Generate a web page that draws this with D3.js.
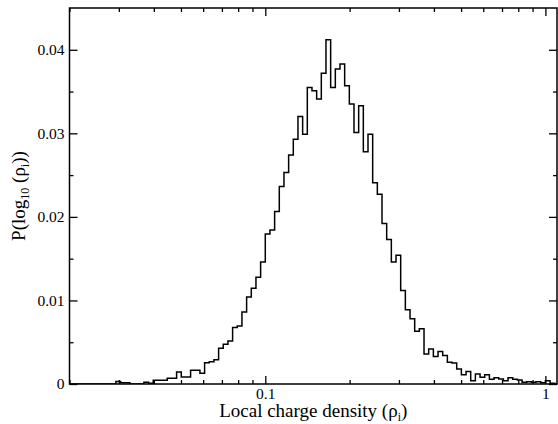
<!DOCTYPE html>
<html>
<head>
<meta charset="utf-8">
<script src="https://cdn.jsdelivr.net/npm/d3@7"></script>
<style>
body{margin:0;background:#fff}
svg text{font-family:"Liberation Serif","DejaVu Serif",serif;fill:#000}
</style>
</head>
<body>
<svg id="chart"></svg>
<script>
const width = 558, height = 424
const margin = {top:8, right:1, bottom:40, left:69.5}

// histogram: bins of 1/60 decade, first listed bin starts at 10^(binStart/60)
const binsPerDecade = 60
const binStart = -93
const density = [
  0, 0.0003, 0.00015, 0.00015, 0, 0, 0, 0.0002, 0.0001, 0.00045,
  0.00045, 0.00045, 0.0007, 0.0007, 0.00145, 0.00085, 0.00085, 0.00165, 0.00165, 0.00128,
  0.00255, 0.00265, 0.0029, 0.00427, 0.00475, 0.00515, 0.00675, 0.00695, 0.00862, 0.0104,
  0.01146, 0.01278, 0.01461, 0.01796, 0.01844, 0.02064, 0.02363, 0.0253, 0.0274, 0.0293,
  0.032, 0.0299, 0.0355, 0.0351, 0.0341, 0.0372, 0.0412, 0.0355, 0.0377, 0.0383,
  0.0357, 0.0335, 0.0301, 0.0333, 0.0278, 0.0299, 0.0241, 0.0227, 0.0192, 0.0173,
  0.0146, 0.0154, 0.0112, 0.0089, 0.0078, 0.0063, 0.0066, 0.0036, 0.0042, 0.0033,
  0.0039, 0.0034, 0.0026, 0.0025, 0.0018, 0.0011, 0.0015, 0.0004, 0.0012, 0.0008,
  0.0011, 0.00056, 0.00075, 0.0006, 0.0004, 0.00075, 0.00056, 0.00048, 0.0002, 0.00028,
  0.0002, 0.00028, 0.00015, 0.0004, 0.0001
]

const xDomain = [0.02, 1.1]
const yDomain = [0, 0.045]
const xMajor = [0.1, 1]
const xMajorLabels = ['0.1', '1']
const xMinor = [0.02,0.03,0.04,0.05,0.06,0.07,0.08,0.09,0.2,0.3,0.4,0.5,0.6,0.7,0.8,0.9]
const yMajor = [0, 0.01, 0.02, 0.03, 0.04]
const yMajorLabels = ['0', '0.01', '0.02', '0.03', '0.04']
const yMinor = [0.005, 0.015, 0.025, 0.035]

const svg = d3.select('#chart')
  .attr('width', width)
  .attr('height', height)

const x = d3.scaleLog().domain(xDomain).range([margin.left, width-margin.right])
const y = d3.scaleLinear().domain(yDomain).range([height-margin.bottom, margin.top])

const plotL = margin.left, plotR = width-margin.right
const plotT = margin.top, plotB = height-margin.bottom

svg.append('clipPath').attr('id','clip')
  .append('rect')
  .attr('x', plotL).attr('y', plotT)
  .attr('width', plotR-plotL)
  .attr('height', plotB-plotT)

// step points: left edge of every bin, closed at zero on both ends
const pts = [[xDomain[0], 0]]
density.forEach((d,i)=>{ pts.push([Math.pow(10,(binStart+i)/binsPerDecade), d]) })
pts.push([Math.pow(10,(binStart+density.length)/binsPerDecade), 0])
pts.push([xDomain[1], 0])

const line = d3.line()
  .x(d=>x(d[0]))
  .y(d=>y(d[1]))
  .curve(d3.curveStepAfter)

svg.append('path')
  .datum(pts)
  .attr('clip-path','url(#clip)')
  .attr('d', line)
  .attr('fill','none')
  .attr('stroke','#000')
  .attr('stroke-width',1.5)

// axes, ticks pointing in on all four sides
const fmtX = d=>xMajorLabels[xMajor.indexOf(d)]
const fmtY = d=>yMajorLabels[yMajor.indexOf(d)]

const addAxis = (axis, tx, ty) => {
  const g = svg.append('g').attr('transform',`translate(${tx},${ty})`).call(axis)
  g.select('.domain').remove()
  g.selectAll('.tick line').attr('stroke','#000').attr('stroke-width',1.3)
  g.selectAll('text')
    .style('font-size','15.5px')
    .style('font-family','"Liberation Serif", serif')
  return g
}

addAxis(d3.axisBottom(x).tickValues(xMajor).tickFormat(fmtX).tickSize(-8).tickPadding(4), 0, plotB)
addAxis(d3.axisBottom(x).tickValues(xMinor).tickFormat('').tickSize(-4), 0, plotB)
addAxis(d3.axisTop(x).tickValues(xMajor).tickFormat('').tickSize(-8), 0, plotT)
addAxis(d3.axisTop(x).tickValues(xMinor).tickFormat('').tickSize(-4), 0, plotT)
addAxis(d3.axisLeft(y).tickValues(yMajor).tickFormat(fmtY).tickSize(-8).tickPadding(5), plotL, 0)
addAxis(d3.axisLeft(y).tickValues(yMinor).tickFormat('').tickSize(-4), plotL, 0)
addAxis(d3.axisRight(y).tickValues(yMajor).tickFormat('').tickSize(-8), plotR, 0)
addAxis(d3.axisRight(y).tickValues(yMinor).tickFormat('').tickSize(-4), plotR, 0)

// frame
svg.append('rect')
  .attr('x', plotL).attr('y', plotT)
  .attr('width', plotR-plotL).attr('height', plotB-plotT)
  .attr('fill','none').attr('stroke','#000').attr('stroke-width',1.5)

// axis titles
const xt = svg.append('text')
  .attr('x', (plotL+plotR)/2).attr('y', 417)
  .attr('text-anchor','middle').style('font-size','19px')
xt.append('tspan').text('Local charge density (\u03c1')
xt.append('tspan').style('font-size','12px').attr('dy',4).text('i')
xt.append('tspan').attr('dy',-4).text(')')

const yt = svg.append('text')
  .attr('transform',`translate(25,${(plotT+plotB)/2}) rotate(-90)`)
  .attr('text-anchor','middle').style('font-size','19px')
yt.append('tspan').text('P(log')
yt.append('tspan').style('font-size','12px').attr('dy',4).text('10')
yt.append('tspan').attr('dy',-4).text(' (\u03c1')
yt.append('tspan').style('font-size','12px').attr('dy',4).text('i')
yt.append('tspan').attr('dy',-4).text('))')
</script>
</body>
</html>
